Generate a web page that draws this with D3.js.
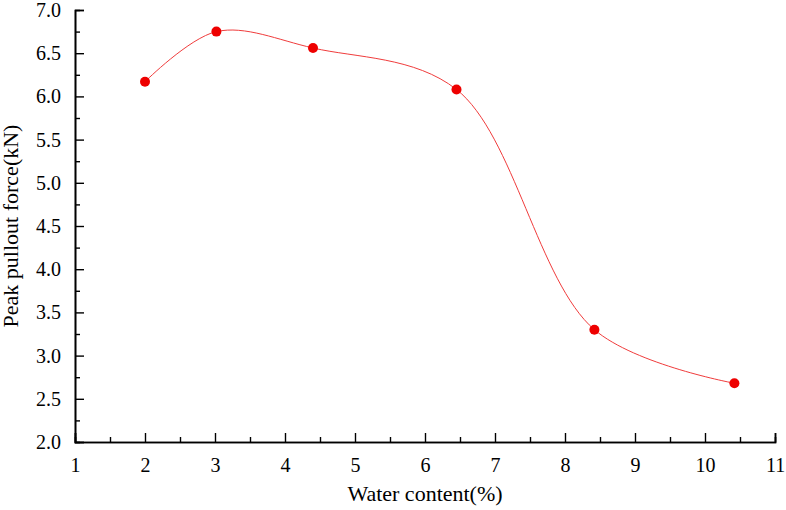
<!DOCTYPE html>
<html><head><meta charset="utf-8">
<script src="https://cdn.jsdelivr.net/npm/d3@7"></script>
<style>body{margin:0;background:#fff}svg{font-family:"Liberation Serif","Times New Roman",serif}</style>
</head><body>
<script>
const waterContent = [2, 3.02, 4.4, 6.45, 8.42, 10.42];
const peakForce = [6.17, 6.75, 6.56, 6.08, 3.30, 2.68];
const xTicks = d3.range(1, 12);
const yTicks = d3.range(2, 7.01, 0.5);

const W = 786, H = 510;
const m = {left: 75, right: 11, top: 10, bottom: 68};
const svg = d3.select("body").append("svg").attr("width", W).attr("height", H);
const x = d3.scaleLinear().domain([1, 11]).range([m.left, W - m.right]);
const y = d3.scaleLinear().domain([2, 7]).range([H - m.bottom, m.top]);

const pts = waterContent.map((v, i) => [v, peakForce[i]]);
const line = d3.line().x(d => x(d[0])).y(d => y(d[1])).curve(d3.curveCatmullRom.alpha(0.5));
svg.append("path").datum(pts).attr("d", line)
  .attr("fill", "none").attr("stroke", "#f03c3c").attr("stroke-width", 1);

svg.append("g").selectAll("circle").data(pts).join("circle")
  .attr("cx", d => x(d[0])).attr("cy", d => y(d[1])).attr("r", 5)
  .attr("fill", "#ee0000");

const gx = svg.append("g").attr("transform", `translate(0,${H - m.bottom})`);
gx.call(d3.axisBottom(x).tickValues(d3.range(1.5, 11, 1)).tickSize(-5).tickFormat(""));
gx.call(g => g.append("g").call(d3.axisBottom(x).tickValues(xTicks).tickSize(-9).tickPadding(16).tickFormat(d3.format("d"))));
const gy = svg.append("g").attr("transform", `translate(${m.left},0)`);
gy.call(d3.axisLeft(y).tickValues(d3.range(2.25, 7, 0.5)).tickSize(-5).tickFormat(""));
gy.call(g => g.append("g").call(d3.axisLeft(y).tickValues(yTicks).tickSize(-9).tickPadding(14).tickFormat(d3.format(".1f"))));
svg.selectAll(".domain").attr("stroke-width", 1.6).attr("stroke", "#000");
svg.selectAll(".tick line").attr("stroke-width", 1.4);
svg.selectAll(".tick text").attr("font-size", 20).attr("font-family", "Liberation Serif").attr("fill", "#000");

svg.append("text").attr("x", (m.left + W - m.right) / 2).attr("y", 501)
  .attr("text-anchor", "middle").attr("font-size", 22).text("Water content(%)");
svg.append("text").attr("transform", `translate(18,${(m.top + H - m.bottom) / 2}) rotate(-90)`)
  .attr("text-anchor", "middle").attr("font-size", 22).text("Peak pullout force(kN)");
</script>
</body></html>
